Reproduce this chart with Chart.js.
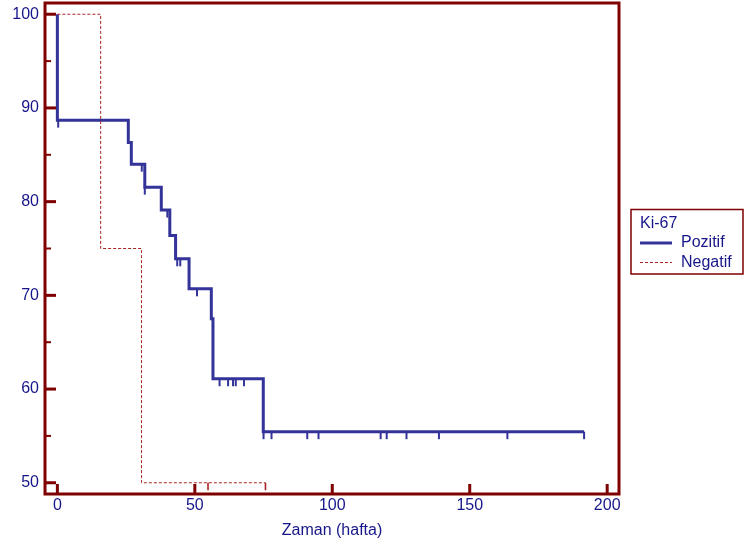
<!DOCTYPE html>
<html><head><meta charset="utf-8">
<script src="https://cdn.jsdelivr.net/npm/chart.js@4.4.1/dist/chart.umd.min.js"></script>
<style>html,body{margin:0;padding:0;background:#fff;overflow:hidden}</style>
</head><body>
<canvas id="c" width="744" height="549"></canvas>
<script>
// ---------- data ----------
const legendTitle = 'Ki-67';
const xTitle = 'Zaman (hafta)';
const seriesNames = ['Pozitif', 'Negatif'];
const xTicks = [0, 50, 100, 150, 200];
const yTicks = [50, 60, 70, 80, 90, 100];
const yMinorTicks = [55, 65, 75, 85, 95];

const posTimes = [0, 0, 25.8, 26.9, 31.8, 37.8, 40.9, 43.0, 47.9, 56.0, 56.6, 74.9, 191.6];
const posSurv  = [100, 88.7, 86.3, 84.0, 81.55, 79.1, 76.4, 73.9, 70.7, 67.5, 61.1, 55.45, 55.45];
const posCensor = [0.3, 30.7, 31.8, 40.0, 43.6, 44.7, 50.8, 59.0, 62.1, 63.9, 64.9, 67.9,
                   75.0, 77.9, 90.9, 95.0, 117.6, 119.8, 127.0, 138.8, 163.7, 191.6];

const negTimes = [0, 15.75, 30.6, 75.7];
const negSurv  = [100, 75, 50, 50];
const negCensor = [54.8, 75.7];

// ---------- styles ----------
const FONT = '"Liberation Sans", Arial, Helvetica, sans-serif';
const FS = 16;
const textColor = '#16168a';
const frameColor = '#7f0000';
const posColor = '#333399';
const negColor = '#a82424';

function toPoints(ts, ss) { return ts.map((t, i) => ({x: t, y: ss[i]})); }
function survAt(ts, ss, t) {
  let v = ss[0];
  for (let i = 0; i < ts.length; i++) { if (ts[i] <= t) v = ss[i]; }
  return v;
}

const kmPlugin = {
  id: 'km',
  afterDatasetsDraw(chart) {
    const {ctx, chartArea: a, scales: {x, y}} = chart;
    ctx.save();
    // censor marks
    const drawCensor = (times, ts, ss, color, w) => {
      ctx.strokeStyle = color; ctx.lineWidth = w; ctx.setLineDash([]);
      times.forEach(t => {
        const px = x.getPixelForValue(t);
        const py = y.getPixelForValue(survAt(ts, ss, t));
        ctx.beginPath(); ctx.moveTo(px, py); ctx.lineTo(px, py + 7.5); ctx.stroke();
      });
    };
    drawCensor(posCensor, posTimes, posSurv, posColor, 2);
    drawCensor(negCensor, negTimes, negSurv, negColor, 1.6);

    // frame
    ctx.strokeStyle = frameColor; ctx.lineWidth = 3; ctx.setLineDash([]);
    ctx.strokeRect(a.left, a.top, a.right - a.left, a.bottom - a.top);
    // inward ticks
    ctx.lineWidth = 3;
    yTicks.forEach(v => {
      const py = y.getPixelForValue(v);
      ctx.beginPath(); ctx.moveTo(a.left, py); ctx.lineTo(a.left + 11, py); ctx.stroke();
    });
    xTicks.forEach(v => {
      const px = x.getPixelForValue(v);
      ctx.beginPath(); ctx.moveTo(px, a.bottom); ctx.lineTo(px, a.bottom - 10); ctx.stroke();
    });
    ctx.lineWidth = 2;
    yMinorTicks.forEach(v => {
      const py = y.getPixelForValue(v);
      ctx.beginPath(); ctx.moveTo(a.left, py); ctx.lineTo(a.left + 6, py); ctx.stroke();
    });

    // legend
    const lx = a.right + 12, ly = a.top + 206.5;
    ctx.lineWidth = 1.5; ctx.strokeStyle = frameColor;
    ctx.strokeRect(lx, ly, 112, 64.5);
    ctx.font = FS + 'px ' + FONT; ctx.fillStyle = textColor;
    ctx.textBaseline = 'middle'; ctx.textAlign = 'left';
    ctx.fillText(legendTitle, lx + 9, ly + 14);
    const ds = chart.data.datasets;
    ds.forEach((d, i) => {
      const yy = ly + 33.5 + i * 19.5;
      ctx.strokeStyle = d.borderColor; ctx.lineWidth = d.borderWidth;
      ctx.setLineDash(d.borderDash || []);
      ctx.beginPath(); ctx.moveTo(lx + 9, yy); ctx.lineTo(lx + 41, yy); ctx.stroke();
      ctx.setLineDash([]);
      ctx.fillStyle = textColor;
      ctx.fillText(d.label, lx + 50, yy);
    });
    ctx.restore();
  }
};

new Chart(document.getElementById('c'), {
  type: 'line',
  data: {
    datasets: [
      { label: seriesNames[0], data: toPoints(posTimes, posSurv), borderColor: posColor, borderWidth: 3,
        stepped: 'before', pointRadius: 0, fill: false, tension: 0, order: 2 },
      { label: seriesNames[1], data: toPoints(negTimes, negSurv), borderColor: negColor, borderWidth: 1,
        borderDash: [3, 2], stepped: 'before', pointRadius: 0, fill: false, tension: 0, order: 1 }
    ]
  },
  options: {
    responsive: false, animation: false, devicePixelRatio: 1,
    layout: { padding: { left: 0, top: 3, right: 125, bottom: 0 } },
    plugins: { legend: { display: false }, tooltip: { enabled: false } },
    scales: {
      x: {
        type: 'linear', min: -4.5, max: 204.3,
        afterBuildTicks(s) { s.ticks = xTicks.map(v => ({value: v})); },
        afterFit(s) { s.height = 55; s.paddingLeft = 0; s.paddingRight = 0; },
        grid: { display: false, drawTicks: false }, border: { display: false },
        ticks: { color: textColor, font: { family: FONT, size: FS }, padding: 2, maxRotation: 0, autoSkip: false },
        title: { display: true, text: xTitle, color: textColor, font: { family: FONT, size: FS }, padding: { top: 0, bottom: 8.5 } }
      },
      y: {
        type: 'linear', min: 48.8, max: 101.2,
        afterBuildTicks(s) { s.ticks = yTicks.map(v => ({value: v})); },
        afterFit(s) { s.width = 45; s.paddingTop = 0; s.paddingBottom = 0; },
        grid: { display: false, drawTicks: false }, border: { display: false },
        ticks: { color: textColor, font: { family: FONT, size: FS }, padding: 6, autoSkip: false }
      }
    }
  },
  plugins: [kmPlugin]
});
</script>
</body></html>
